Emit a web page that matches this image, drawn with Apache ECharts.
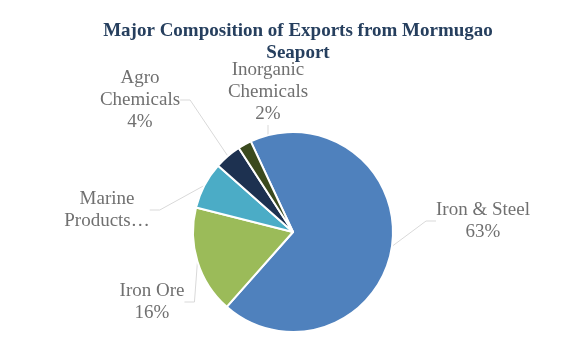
<!DOCTYPE html>
<html>
<head>
<meta charset="utf-8">
<script src="https://cdn.jsdelivr.net/npm/echarts@6/dist/echarts.min.js"></script>
<style>
html,body{margin:0;padding:0;background:#fff;}
#chart{width:587px;height:359px;}
</style>
</head>
<body>
<div id="chart"></div>
<script>
// Data
var categories = ['Iron & Steel', 'Iron Ore', 'Marine Products', 'Agro Chemicals', 'Inorganic Chemicals'];
var values = [63, 16, 7, 4, 2];
var labelNames = ['Iron & Steel', 'Iron Ore', 'Marine\nProducts\u2026', 'Agro\nChemicals', 'Inorganic\nChemicals'];
var showValue = [true, true, false, true, true];
var colors = ['#4F81BD', '#9BBB59', '#4BACC6', '#1D3150', '#3B4A1E'];
var titleText = 'Major Composition of Exports from Mormugao\nSeaport';

// label anchor positions (label centres)
var labelPos = [[483, 221], [152, 302], [107, 210], [140, 100], [268, 92]];

var chart = echarts.init(document.getElementById('chart'));
var data = categories.map(function (c, i) {
  return { name: c, value: values[i], itemStyle: { color: colors[i] } };
});
chart.setOption({
  animation: false,
  title: {
    text: titleText,
    left: 293,
    top: 15,
    textAlign: 'center',
    textStyle: {
      fontFamily: 'Liberation Serif',
      fontWeight: 'bold',
      fontSize: 19,
      lineHeight: 22,
      color: '#263F5E'
    }
  },
  series: [{
    type: 'pie',
    center: [293, 232],
    radius: 100,
    startAngle: 115,
    clockwise: true,
    data: data,
    itemStyle: { borderColor: '#fff', borderWidth: 2 },
    label: {
      show: true,
      position: 'outside',
      fontFamily: 'Liberation Serif',
      fontSize: 19,
      lineHeight: 22,
      color: '#707070',
      align: 'center',
      formatter: function (p) {
        var i = p.dataIndex;
        return labelNames[i] + (showValue[i] ? '\n' + values[i] + '%' : '');
      }
    },
    labelLine: {
      show: true,
      length: 15,
      length2: 10,
      lineStyle: { color: '#D9D9D9', width: 1 }
    },
    labelLayout: function (p) {
      var pos = labelPos[p.dataIndex];
      return { x: pos[0], y: pos[1], align: 'center', verticalAlign: 'middle' };
    }
  }]
});
</script>
</body>
</html>
